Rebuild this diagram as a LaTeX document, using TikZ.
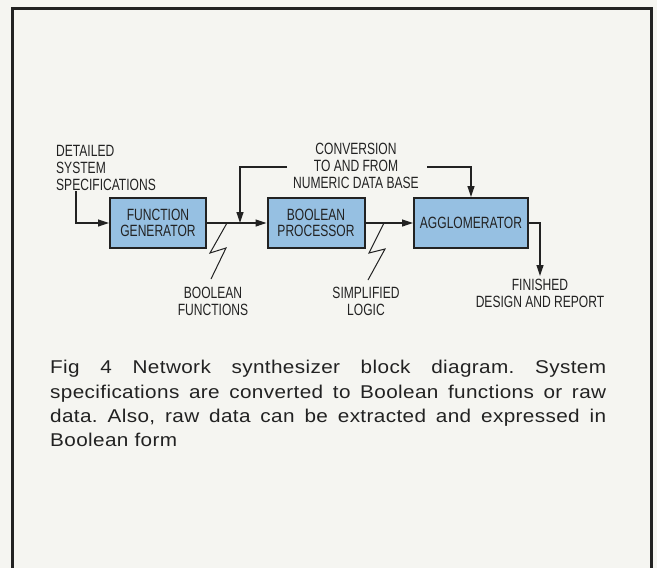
\documentclass[tikz,border=0pt]{standalone}
\usepackage{fontspec}
\setmainfont{Liberation Sans}
\newfontfamily\narrowfont[FakeStretch=0.74]{Liberation Sans}
\newfontfamily\capfont[FakeStretch=1.12,LetterSpace=2]{Liberation Sans}
\usepackage{tikz}
\usetikzlibrary{arrows.meta}
\definecolor{paper}{RGB}{245,245,241}
\definecolor{boxblue}{RGB}{150,192,226}
\definecolor{inkgray}{RGB}{34,34,34}

\begin{document}
\begin{tikzpicture}[x=1pt, y=-1pt, >={Triangle[length=11pt,width=7pt]},
    block/.style={draw=inkgray, line width=2pt, fill=boxblue, text=inkgray, align=center,
      minimum height=50pt, inner sep=0pt, font=\narrowfont\fontsize{16.3}{15.7}\selectfont},
    tag/.style={text=inkgray, inner sep=0pt, align=center, font=\narrowfont\fontsize{16.3}{16.8}\selectfont},
    flow/.style={->, draw=inkgray, line width=1.2pt},
    zig/.style={draw=inkgray, line width=1pt}]
    % page
    \fill[paper] (0,0) rectangle (657,568);
    \useasboundingbox (0,0) rectangle (657,568);
    \draw[inkgray, line width=3pt] (12,568) |- (651,8) -- (651,568);

    % blocks
    \node[block, minimum width=96pt] (fungen) at (158,223) {FUNCTION\\GENERATOR};
    \node[block, minimum width=97pt] (boolproc) at (316,223) {BOOLEAN\\PROCESSOR};
    \node[block, minimum width=114pt] (agglom) at (471,223) {AGGLOMERATOR};

    % labels
    \node[tag, anchor=north west, align=left] (specs) at (56,145) {DETAILED\\SYSTEM\\SPECIFICATIONS};
    \node[tag, anchor=north] (conv) at (356,143) {CONVERSION\\TO AND FROM\\NUMERIC DATA BASE};
    \node[tag, anchor=north] (boolfun) at (213,287) {BOOLEAN\\FUNCTIONS};
    \node[tag, anchor=north] (simplog) at (366,287) {SIMPLIFIED\\LOGIC};
    \node[tag, anchor=north] (finished) at (540,279) {FINISHED\\DESIGN AND REPORT};

    % line ends
    \coordinate (specin) at (76,191);
    \coordinate (convL) at (287,167);
    \coordinate (convR) at (427,167);
    \coordinate (merge) at (240,223);
    \coordinate (done) at (540,276);
    \coordinate (zigA) at (227,223);
    \coordinate (zigB) at (384,223);

    % arrows
    \draw[flow] (specin) |- (fungen.west);
    \draw[flow] (fungen.east) -- (boolproc.west);
    \draw[flow] (convL) -| (merge);
    \draw[flow] (boolproc.east) -- (agglom.west);
    \draw[flow] (convR) -| (agglom.north);
    \draw[flow] (agglom.east) -| (done);

    % breaks
    \draw[zig] (zigA) -- ++(-17,30) -- ++(16,-5) -- ++(-15,31);
    \draw[zig] (zigB) -- ++(-15,30) -- ++(16,-4) -- ++(-17,31);

    % caption
    \node[anchor=north west, inner sep=0pt, text width=556pt, align=justify, text=inkgray,
      font=\capfont\fontsize{18.5}{24.4}\selectfont] (caption) at (50,360)
      {\hyphenpenalty=10000\relax\frenchspacing
       Fig 4 Network synthesizer block diagram. System\linebreak
       specifications are converted to Boolean functions or raw\linebreak
       data. Also, raw data can be extracted and expressed in\linebreak
       Boolean form};
\end{tikzpicture}
\end{document}
